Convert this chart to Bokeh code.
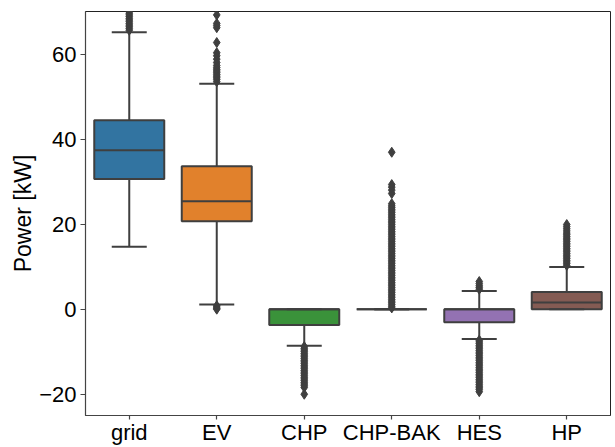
from bokeh.plotting import figure
from bokeh.models import ColumnDataSource, Range1d, FixedTicker
from bokeh.embed import file_html
from bokeh.resources import INLINE

# ---- data ----
categories = ["grid", "EV", "CHP", "CHP-BAK", "HES", "HP"]
q1 = [30.6, 20.7, -3.7, 0.0, -3.05, 0.0]
median = [37.4, 25.4, 0.0, 0.0, 0.0, 1.6]
q3 = [44.4, 33.6, 0.0, 0.0, 0.0, 4.07]
whisker_low = [14.7, 1.1, -8.6, 0.0, -7.0, 0.0]
whisker_high = [65.1, 53.0, 0.0, 0.0, 4.3, 9.9]
colors = ["#3274a1", "#e1812c", "#3a923a", "#c03d3e", "#9372b2", "#845b53"]

outliers_grid = [65.6, 66.0, 66.4, 66.8, 67.2, 67.6, 68.0, 68.4, 68.8, 69.2, 69.6, 70.0, 71.0, 72.5]
outliers_ev = [53.5, 54.0, 54.4, 54.8, 55.2, 55.6, 56.0, 56.4, 56.8, 57.3, 58.0, 58.8, 59.6,
               60.3, 62.7, 66.2, 66.7, 67.2, 69.2, 0.8, 0.5, 0.2, 0.0]
outliers_chp = [-8.8, -9.2, -9.6, -10.0, -10.4, -10.8, -11.2, -11.6, -12.0, -12.4, -12.8,
                -13.2, -13.6, -14.0, -14.4, -14.8, -15.2, -15.6, -16.0, -16.4, -16.8,
                -17.2, -17.6, -18.0, -18.4, -20.0]
outliers_chp_bak = [0.3, 0.7, 1.1, 1.5, 1.9, 2.3, 2.7, 3.1, 3.5, 3.9, 4.3, 4.7, 5.1, 5.5,
                    5.9, 6.3, 6.7, 7.1, 7.5, 7.9, 8.3, 8.7, 9.1, 9.5, 9.9, 10.3, 10.7,
                    11.1, 11.5, 11.9, 12.3, 12.7, 13.1, 13.5, 13.9, 14.3, 14.7, 15.1,
                    15.5, 15.9, 16.3, 16.7, 17.1, 17.5, 17.9, 18.3, 18.7, 19.1, 19.5,
                    19.9, 20.3, 20.7, 21.1, 21.5, 21.9, 22.3, 22.7, 23.1, 23.5, 23.9,
                    24.3, 24.8, 27.2, 28.0, 28.7, 29.3, 36.9]
outliers_hes = [4.7, 5.1, 5.5, 6.0, 6.5, -7.3, -7.7, -8.1, -8.5, -8.9, -9.3, -9.7, -10.1,
                -10.5, -10.9, -11.3, -11.7, -12.1, -12.5, -12.9, -13.3, -13.7, -14.1,
                -14.5, -14.9, -15.3, -15.7, -16.1, -16.5, -16.9, -17.3, -17.7, -18.1,
                -18.5, -18.9, -19.4]
outliers_hp = [10.3, 10.7, 11.1, 11.5, 11.9, 12.3, 12.7, 13.1, 13.5, 13.9, 14.3, 14.7,
               15.1, 15.5, 15.9, 16.3, 16.7, 17.1, 17.5, 17.9, 18.4, 18.9, 19.4, 19.9]
outliers = [outliers_grid, outliers_ev, outliers_chp, outliers_chp_bak, outliers_hes, outliers_hp]
y_ticks = [-20, 0, 20, 40, 60]

# ---- styling ----
FONT = "Liberation Sans"
EDGE = "#3f3f3f"
BOX_W = 0.8
CAP_W = 0.4

xpos = list(range(len(categories)))

p = figure(width=615, height=447, output_backend="svg", toolbar_location=None,
           x_range=Range1d(-0.5, len(categories) - 0.5), y_range=Range1d(-25, 70),
           min_border_left=85, min_border_right=5, min_border_top=11, min_border_bottom=31)
p.xgrid.visible = False
p.ygrid.visible = False
p.background_fill_color = "white"
p.border_fill_color = "white"
p.outline_line_color = "#222222"
p.outline_line_width = 1

# whiskers
wsrc = ColumnDataSource(dict(
    x=xpos + xpos,
    y0=whisker_low + q3,
    y1=q1 + whisker_high,
))
p.segment(x0="x", y0="y0", x1="x", y1="y1", source=wsrc, line_color=EDGE, line_width=2)

# boxes
bsrc = ColumnDataSource(dict(x=xpos, top=q3, bottom=q1, color=colors))
p.vbar(x="x", width=BOX_W, top="top", bottom="bottom", source=bsrc,
       fill_color="color", line_color=EDGE, line_width=2)

# caps
csrc = ColumnDataSource(dict(
    x0=[x - CAP_W / 2 for x in xpos] * 2,
    x1=[x + CAP_W / 2 for x in xpos] * 2,
    y=whisker_low + whisker_high,
))
p.segment(x0="x0", y0="y", x1="x1", y1="y", source=csrc, line_color=EDGE, line_width=2)

# medians
msrc = ColumnDataSource(dict(
    x0=[x - BOX_W / 2 for x in xpos],
    x1=[x + BOX_W / 2 for x in xpos],
    y=median,
))
p.segment(x0="x0", y0="y", x1="x1", y1="y", source=msrc, line_color=EDGE, line_width=2)

# outliers
ox, oy = [], []
for i, vals in enumerate(outliers):
    ox += [i] * len(vals)
    oy += vals
osrc = ColumnDataSource(dict(x=ox, y=oy))
p.scatter(x="x", y="y", source=osrc, marker="diamond", size=10,
          fill_color=EDGE, line_color=EDGE, line_width=1)

# axes
p.xaxis.ticker = FixedTicker(ticks=xpos)
p.xaxis.major_label_overrides = {i: c for i, c in enumerate(categories)}
p.yaxis.ticker = FixedTicker(ticks=y_ticks)
p.yaxis.major_label_overrides = {t: str(t).replace("-", "\u2212") for t in y_ticks}
p.yaxis.axis_label = "Power [kW]"

for ax in (p.xaxis[0], p.yaxis[0]):
    ax.major_label_text_font = FONT
    ax.major_label_text_font_size = "22px"
    ax.major_label_text_color = "#000000"
    ax.axis_label_text_font = FONT
    ax.axis_label_text_font_size = "23px"
    ax.axis_label_text_font_style = "normal"
    ax.axis_label_text_color = "#000000"
    ax.axis_line_color = "#444444"
    ax.axis_line_width = 1.2
    ax.major_tick_line_color = "#444444"
    ax.major_tick_line_width = 1.2
    ax.major_tick_out = 5
    ax.major_tick_in = 0
    ax.minor_tick_line_color = None
    ax.major_label_standoff = 4

p.xaxis.major_tick_out = 4
p.xaxis.major_label_standoff = 0
p.yaxis.axis_label_standoff = 0

open("out.html", "w").write(file_html(p, INLINE))
